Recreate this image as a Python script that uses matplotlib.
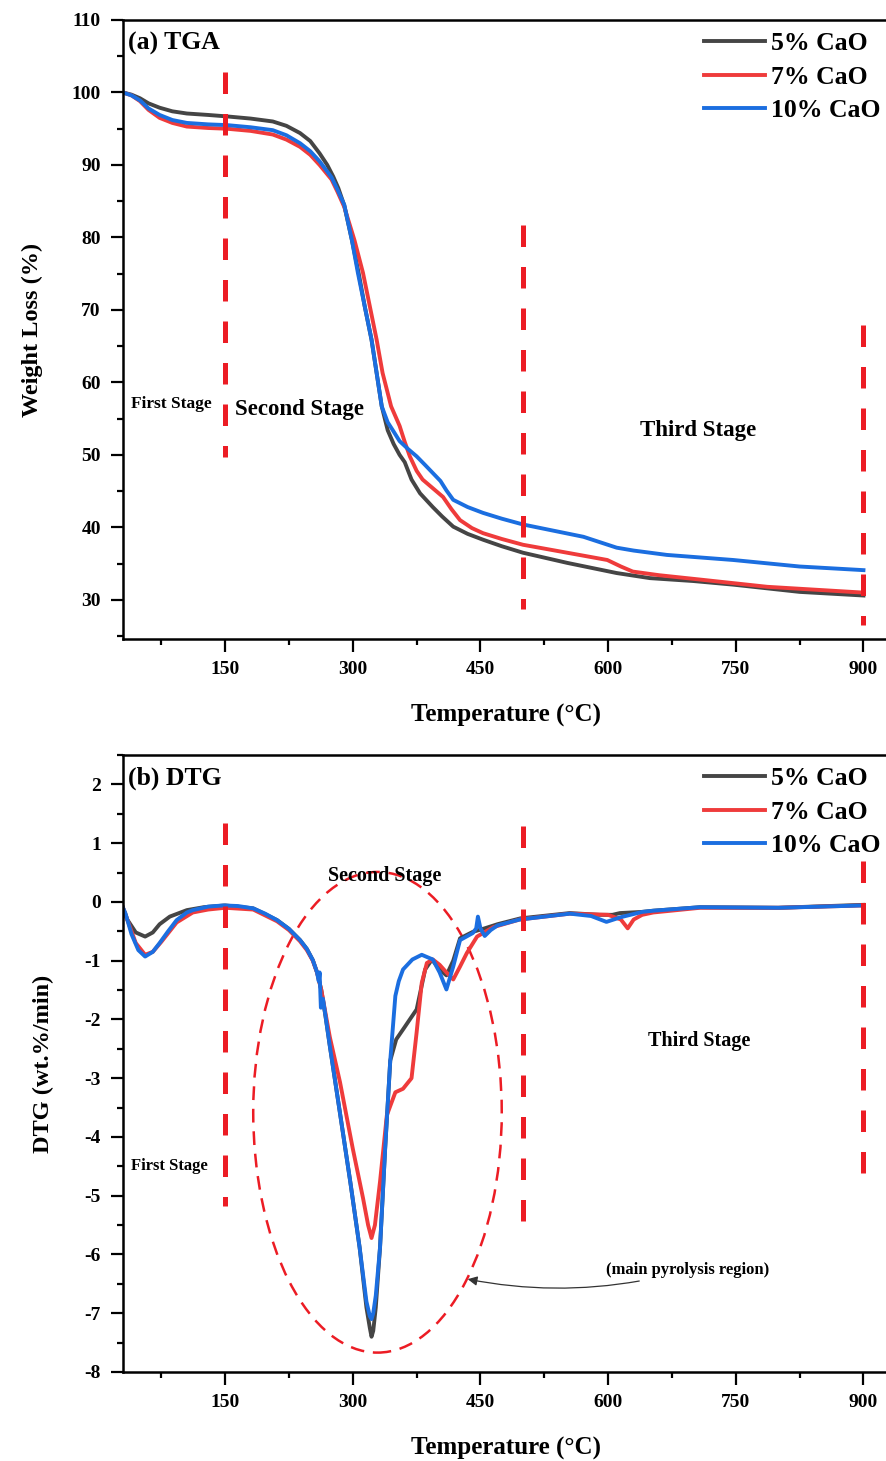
import numpy as np
import matplotlib.pyplot as plt
from matplotlib.patches import Ellipse
from matplotlib.ticker import MultipleLocator

plt.rcParams['font.family'] = ['Liberation Serif', 'DejaVu Serif']
plt.rcParams['font.weight'] = 'bold'
plt.rcParams['axes.labelweight'] = 'bold'
plt.rcParams['axes.unicode_minus'] = False

labels = ['5% CaO', '7% CaO', '10% CaO']
colors = ['#454545', '#ef3b3b', '#1b6ee0']

# ---- TGA (weight loss %) ----
tga_t_5 = [30, 40, 50, 60, 73, 88, 105, 130, 152, 180, 206, 222, 238, 250, 261, 270, 277, 283, 290, 299,
           307, 314, 322, 328, 334, 341, 348, 355, 361, 369, 379, 394, 405, 418, 435, 453, 475, 500,
           552, 610, 649, 700, 747, 825, 900]
tga_v_5 = [100, 99.7, 99.2, 98.5, 97.9, 97.4, 97.1, 96.9, 96.7, 96.4, 96.0, 95.4, 94.4, 93.3, 91.6, 90.0,
           88.4, 86.8, 84.4, 79.6, 75.0, 70.5, 65.9, 61.3, 56.7, 53.4, 51.5, 50.0, 49.0, 46.6, 44.7, 42.8,
           41.5, 40.1, 39.1, 38.3, 37.4, 36.5, 35.1, 33.7, 33.0, 32.6, 32.1, 31.1, 30.6]

tga_t_7 = [30, 40, 50, 60, 73, 88, 105, 130, 152, 180, 206, 222, 238, 250, 261, 268, 275, 282, 290, 302,
           312, 320, 328, 335, 345, 355, 361, 367, 375, 382, 395, 406, 416, 426, 440, 453, 475, 500,
           552, 599, 615, 629, 660, 708, 787, 900]
tga_v_7 = [100, 99.6, 98.8, 97.6, 96.5, 95.8, 95.3, 95.1, 95.0, 94.7, 94.2, 93.5, 92.5, 91.4, 90.0, 89.0,
           88.0, 86.3, 84.2, 79.6, 75.1, 70.5, 65.9, 61.3, 56.7, 54.0, 51.8, 49.8, 47.8, 46.6, 45.3, 44.2,
           42.5, 41.0, 39.9, 39.2, 38.4, 37.6, 36.5, 35.5, 34.6, 33.9, 33.4, 32.8, 31.8, 31.0]

tga_t_10 = [30, 40, 50, 60, 73, 88, 105, 130, 152, 180, 206, 222, 238, 250, 261, 268, 275, 282, 290, 299,
            306, 314, 322, 328, 334, 341, 347, 355, 365, 375, 385, 394, 403, 410, 418, 435, 453, 475, 500,
            571, 610, 630, 669, 747, 825, 900]
tga_v_10 = [100, 99.6, 98.9, 97.8, 96.9, 96.2, 95.8, 95.6, 95.5, 95.2, 94.8, 94.1, 93.0, 91.9, 90.5, 89.4,
            88.3, 86.6, 84.5, 79.6, 75.1, 70.5, 65.9, 61.3, 56.7, 54.5, 53.4, 51.9, 50.8, 49.8, 48.6, 47.5,
            46.4, 45.1, 43.8, 42.8, 42.0, 41.2, 40.4, 38.7, 37.2, 36.8, 36.2, 35.5, 34.6, 34.1]

# ---- DTG (wt.%/min) ----
dtg_t_5 = [30, 35, 45, 56, 65, 73, 85, 105, 125, 150, 183, 211, 225, 238, 246, 253, 258, 263, 268, 273,
           285, 297, 308, 316, 320, 322, 324, 327, 332, 338, 344, 351, 360, 367, 375, 385, 393, 402, 410,
           418, 426, 441, 455, 470, 497, 555, 590, 605, 614, 640, 653, 708, 800, 900]
dtg_v_5 = [-0.1, -0.3, -0.52, -0.59, -0.52, -0.38, -0.25, -0.14, -0.09, -0.06, -0.11, -0.31, -0.46, -0.65,
           -0.8, -0.99, -1.2, -1.5, -1.95, -2.45, -3.6, -4.76, -5.88, -6.9, -7.25, -7.4, -7.3, -6.9, -5.88,
           -4.2, -2.7, -2.34, -2.15, -2.0, -1.83, -1.15, -0.98, -1.15, -1.25, -1.0, -0.62, -0.51, -0.45,
           -0.38, -0.28, -0.19, -0.22, -0.22, -0.19, -0.17, -0.15, -0.09, -0.1, -0.05]

dtg_t_7 = [30, 35, 45, 56, 65, 75, 93, 112, 130, 150, 183, 211, 225, 238, 246, 253, 258, 263, 268, 273,
           285, 300, 312, 318, 322, 326, 332, 340, 350, 359, 369, 375, 381, 387, 394, 402, 410, 418, 426,
           434, 446, 465, 496, 555, 600, 615, 623, 630, 640, 653, 708, 800, 900]
dtg_v_7 = [-0.1, -0.3, -0.7, -0.9, -0.85, -0.68, -0.35, -0.18, -0.13, -0.1, -0.13, -0.33, -0.48, -0.67,
           -0.82, -1.0, -1.2, -1.5, -1.9, -2.3, -3.07, -4.2, -5.04, -5.5, -5.72, -5.5, -4.76, -3.63, -3.24,
           -3.18, -3.0, -2.22, -1.38, -1.04, -0.98, -1.07, -1.2, -1.32, -1.1, -0.87, -0.59, -0.43, -0.3,
           -0.2, -0.22, -0.3, -0.45, -0.3, -0.22, -0.18, -0.1, -0.1, -0.06]

dtg_t_10 = [30, 33, 40, 48, 56, 65, 73, 83, 93, 105, 112, 130, 148, 165, 183, 197, 211, 225, 238, 246,
            253, 258, 260, 261, 262.5, 265, 268, 273, 285, 297, 308, 316, 320, 322, 324, 327, 332, 338,
            344, 350, 354, 359, 370, 381, 394, 402, 410, 418, 426, 441, 445, 447, 450, 455, 462, 470, 496,
            555, 580, 598, 615, 640, 653, 708, 800, 900]
dtg_v_10 = [-0.1, -0.2, -0.55, -0.82, -0.93, -0.85, -0.7, -0.5, -0.31, -0.18, -0.14, -0.08, -0.06, -0.07,
            -0.11, -0.2, -0.31, -0.46, -0.65, -0.8, -0.99, -1.2, -1.35, -1.2, -1.8, -1.65, -1.95, -2.45,
            -3.6, -4.76, -5.88, -6.8, -7.05, -7.1, -7.0, -6.7, -5.88, -4.2, -2.7, -1.6, -1.35, -1.15, -0.98,
            -0.9, -0.98, -1.2, -1.49, -1.1, -0.65, -0.53, -0.45, -0.25, -0.45, -0.58, -0.48, -0.4, -0.3,
            -0.2, -0.24, -0.34, -0.26, -0.17, -0.15, -0.09, -0.1, -0.06]

# stage boundary lines: x position, (top, bottom) in data units
stage_x = [150, 500, 900]
tga_stage_span = [(102.8, 49.7), (81.7, 28.7), (67.9, 26.6)]
dtg_stage_span = [(1.34, -5.18), (1.3, -5.57), (0.7, -4.73)]

red = '#ec1c24'

fig = plt.figure(figsize=(8.86, 14.61), dpi=100)
ax1 = fig.add_axes([123 / 886, 1 - 639 / 1461, (889 - 123) / 886, 619 / 1461])
ax2 = fig.add_axes([123 / 886, 1 - 1372 / 1461, (889 - 123) / 886, 617 / 1461])

tga = [(tga_t_5, tga_v_5), (tga_t_7, tga_v_7), (tga_t_10, tga_v_10)]
dtg = [(dtg_t_5, dtg_v_5), (dtg_t_7, dtg_v_7), (dtg_t_10, dtg_v_10)]

for i in range(3):
    ax1.plot(tga[i][0], tga[i][1], color=colors[i], lw=2.8, label=labels[i], solid_joinstyle='round')
    ax2.plot(dtg[i][0], dtg[i][1], color=colors[i], lw=2.8, label=labels[i], solid_joinstyle='round')

for x, (top, bot) in zip(stage_x, tga_stage_span):
    ax1.plot([x, x], [top, bot], color=red, lw=3.6, ls=(0, (4.3, 4.0)))
for x, (top, bot) in zip(stage_x, dtg_stage_span):
    ax2.plot([x, x], [top, bot], color=red, lw=3.6, ls=(0, (4.3, 4.0)))

# ellipse around main pyrolysis region
ell = Ellipse((329, -3.58), 292, 8.18, fill=False, edgecolor=red, lw=1.8, ls=(0, (5.5, 3.5)))
ax2.add_patch(ell)

for ax in (ax1, ax2):
    ax.set_xlim(30, 930)
    ax.xaxis.set_major_locator(MultipleLocator(150))
    ax.xaxis.set_minor_locator(MultipleLocator(75))
    ax.tick_params(which='major', direction='out', length=9, width=1.6, labelsize=14, pad=7,
                   top=False, right=False)
    ax.tick_params(which='minor', direction='out', length=4, width=1.6, top=False, right=False)
    for s in ['left', 'bottom', 'top']:
        ax.spines[s].set_linewidth(1.8)
    ax.spines['right'].set_visible(False)
    ax.set_xlabel('Temperature (°C)', fontsize=18)
    ax.xaxis.label.set_va('center')
    ax.legend(loc='upper left', bbox_to_anchor=(0.759, 0.981), frameon=False,
              prop=dict(size=18.5, weight='bold'), handlelength=2.35, handletextpad=0.25,
              labelspacing=0.42, borderpad=0, borderaxespad=0)

ax1.set_ylim(24.6, 110)
ax1.yaxis.set_major_locator(MultipleLocator(10))
ax1.yaxis.set_minor_locator(MultipleLocator(5))
ax1.set_ylabel('Weight Loss (%)', fontsize=17.5)
ax1.yaxis.set_label_coords(-0.104, 0.5)
ax1.xaxis.set_label_coords(0.5, -0.124)

ax2.set_ylim(-8, 2.5)
ax2.yaxis.set_major_locator(MultipleLocator(1))
ax2.yaxis.set_minor_locator(MultipleLocator(0.5))
ax2.set_ylabel('DTG (wt.%/min)', fontsize=17.5)
ax2.yaxis.set_label_coords(-0.09, 0.5)
ax2.xaxis.set_label_coords(0.5, -0.124)
for lab in ax1.get_xticklabels() + ax1.get_yticklabels() + ax2.get_xticklabels() + ax2.get_yticklabels():
    lab.set_fontweight('bold')

# panel titles and stage labels
ax1.text(0.006, 0.962, '(a) TGA', transform=ax1.transAxes, fontsize=18.5, va='center', ha='left')
ax2.text(0.006, 0.962, '(b) DTG', transform=ax2.transAxes, fontsize=18.5, va='center', ha='left')

ax1.text(39.4, 57.0, 'First Stage', fontsize=12.5, va='center', ha='left')
ax1.text(161.6, 56.2, 'Second Stage', fontsize=16.5, va='center', ha='left')
ax1.text(637.5, 53.3, 'Third Stage', fontsize=16.5, va='center', ha='left')

ax2.text(39.4, -4.5, 'First Stage', fontsize=12, va='center', ha='left')
ax2.text(337, 0.44, 'Second Stage', fontsize=14.5, va='center', ha='center')
ax2.text(647, -2.36, 'Third Stage', fontsize=14.5, va='center', ha='left')

ax2.annotate('(main pyrolysis region)', xy=(435, -6.42), xytext=(598, -6.26), fontsize=12,
             va='center', ha='left',
             arrowprops=dict(arrowstyle='-|>', color='#333333', lw=0.9, mutation_scale=14,
                             connectionstyle='arc3,rad=-0.12', shrinkA=2, shrinkB=0))

fig.savefig('out.png', dpi=100)
